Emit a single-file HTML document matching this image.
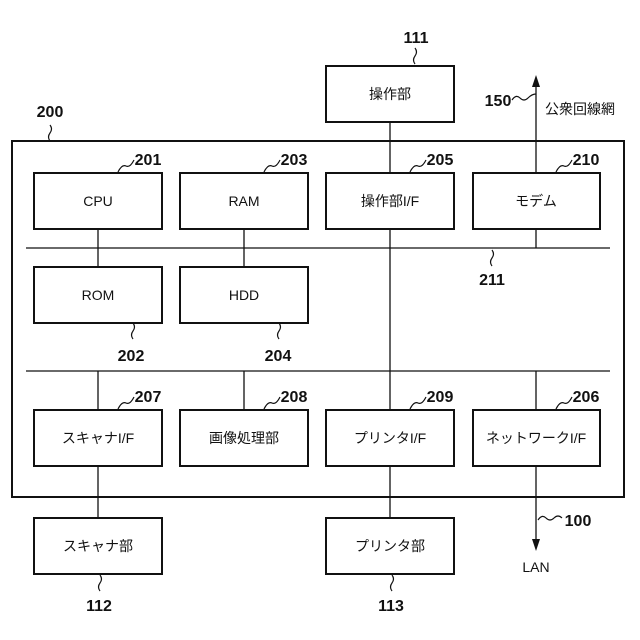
<!DOCTYPE html>
<html><head><meta charset="utf-8"><style>body{margin:0;background:#fff}svg{display:block}text{font-family:"Liberation Sans","Noto Sans CJK JP",sans-serif;fill:#111}</style></head><body>
<svg width="640" height="640" viewBox="0 0 640 640" xmlns="http://www.w3.org/2000/svg">
<g stroke="#111" stroke-width="1.3" fill="none">
<line x1="26" y1="248" x2="610" y2="248"/><line x1="26" y1="371" x2="610" y2="371"/>
<line x1="98" y1="229" x2="98" y2="267"/><line x1="244" y1="229" x2="244" y2="267"/>
<line x1="390" y1="122" x2="390" y2="518"/>
<line x1="536" y1="229" x2="536" y2="248"/><line x1="536" y1="173" x2="536" y2="84"/>
<line x1="98" y1="371" x2="98" y2="410"/><line x1="244" y1="371" x2="244" y2="410"/><line x1="536" y1="371" x2="536" y2="410"/>
<line x1="98" y1="466" x2="98" y2="518"/><line x1="536" y1="466" x2="536" y2="542"/>
</g>
<g fill="none" stroke="#111" stroke-width="2">
<rect x="12" y="141" width="612" height="356"/>
</g>
<g fill="#fff" stroke="#111" stroke-width="2">
<rect x="326" y="66" width="128" height="56"/>
<rect x="34" y="173" width="128" height="56"/><rect x="180" y="173" width="128" height="56"/><rect x="326" y="173" width="128" height="56"/><rect x="473" y="173" width="127" height="56"/>
<rect x="34" y="267" width="128" height="56"/><rect x="180" y="267" width="128" height="56"/>
<rect x="34" y="410" width="128" height="56"/><rect x="180" y="410" width="128" height="56"/><rect x="326" y="410" width="128" height="56"/><rect x="473" y="410" width="127" height="56"/>
<rect x="34" y="518" width="128" height="56"/><rect x="326" y="518" width="128" height="56"/>
</g>
<g stroke="#111" stroke-width="1.2" fill="none">
<path d="M118 172 q4-8 8-6 t8-6"/><path d="M264 172 q4-8 8-6 t8-6"/><path d="M410 172 q4-8 8-6 t8-6"/><path d="M556 172 q4-8 8-6 t8-6"/>
<path d="M118 409 q4-8 8-6 t8-6"/><path d="M264 409 q4-8 8-6 t8-6"/><path d="M410 409 q4-8 8-6 t8-6"/><path d="M556 409 q4-8 8-6 t8-6"/>
<path d="M512 100 q4-6 8-2 t8 0 t8-4"/><path d="M538 520 q4-6 8-2 t8 0 t8 0"/>
<path d="M50 141 q-3-4 0-8 t0-8"/>
<path d="M415 64 q-3-4 0-8 t0-8"/>
<path d="M492 250 q3 4 0 8 t0 8"/>
<path d="M133 323 q3 4 0 8 t0 8"/><path d="M279 323 q3 4 0 8 t0 8"/>
<path d="M100 575 q3 4 0 8 t0 8"/><path d="M392 575 q3 4 0 8 t0 8"/>
</g>
<polygon points="536,75 532,87 540,87" fill="#111"/><polygon points="536,551 532,539 540,539" fill="#111"/>
<g font-size="14" text-anchor="middle">
<text x="390" y="99">操作部</text>
<text x="98" y="206">CPU</text><text x="244" y="206">RAM</text><text x="390" y="206">操作部I/F</text><text x="536" y="206">モデム</text>
<text x="98" y="300">ROM</text><text x="244" y="300">HDD</text>
<text x="98" y="443">スキャナI/F</text><text x="244" y="443">画像処理部</text><text x="390" y="443">プリンタI/F</text><text x="536" y="443">ネットワークI/F</text>
<text x="98" y="551">スキャナ部</text><text x="390" y="551">プリンタ部</text>
<text x="536" y="572">LAN</text>
<text x="580" y="114">公衆回線網</text>
</g>
<g font-size="16" font-weight="bold" text-anchor="middle">
<text x="416" y="43">111</text><text x="50" y="117">200</text><text x="498" y="106">150</text>
<text x="148" y="165">201</text><text x="294" y="165">203</text><text x="440" y="165">205</text><text x="586" y="165">210</text>
<text x="492" y="285">211</text><text x="131" y="361">202</text><text x="278" y="361">204</text>
<text x="148" y="402">207</text><text x="294" y="402">208</text><text x="440" y="402">209</text><text x="586" y="402">206</text>
<text x="578" y="526">100</text><text x="99" y="611">112</text><text x="391" y="611">113</text>
</g>
</svg>
</body></html>
